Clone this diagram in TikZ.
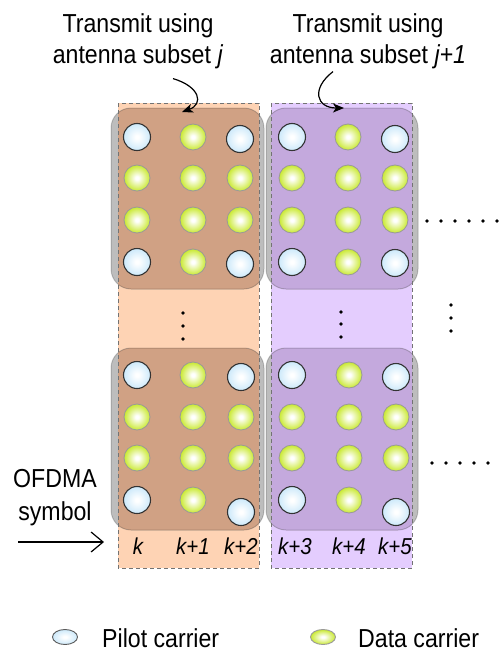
\documentclass[tikz,border=0pt]{standalone}
\usepackage{fontspec}
\setmainfont[FakeStretch=0.89]{Liberation Sans}
\usetikzlibrary{arrows.meta,shapes.geometric}

\definecolor{pilotblue}{HTML}{B8E0F8}
\definecolor{datagreen}{HTML}{C2E614}
\definecolor{orangebg}{HTML}{FED3B4}
\definecolor{purplebg}{HTML}{E4CDFE}
\definecolor{orangebox}{HTML}{D0A184}
\definecolor{purplebox}{HTML}{C4A9DD}
\definecolor{boxgray}{HTML}{BDBDBD}

\pgfdeclareradialshading{pilotball}{\pgfpointorigin}{color(0bp)=(white); color(3bp)=(white); color(34bp)=(pilotblue); color(50bp)=(pilotblue)}
\pgfdeclareradialshading{databall}{\pgfpointorigin}{color(0bp)=(white); color(3bp)=(white); color(28bp)=(datagreen); color(50bp)=(datagreen)}

\tikzset{
  pilotdot/.style={circle, draw=black!80, line width=1.1pt, shade, shading=pilotball,
    minimum size=27pt, inner sep=0pt},
  datadot/.style={circle, draw=black!40, line width=0.8pt, shade, shading=databall,
    minimum size=26pt, inner sep=0pt},
  colframe/.style={draw=black!55, line width=0.8pt, dash pattern=on 4pt off 3pt},
  rbox/.style={rounded corners=20pt},
  txt/.style={font=\fontsize{26}{31}\selectfont, align=center, inner sep=0pt},
  idx/.style={font=\fontsize{23}{26}\selectfont\itshape, inner sep=0pt, anchor=base},
  curl/.style={line width=1.2pt, -{Stealth[length=11pt,width=9pt,inset=3pt]}},
  dotmark/.style={fill=black},
}

\begin{document}
\begin{tikzpicture}[x=1pt,y=-1pt]
\useasboundingbox (0,0) rectangle (499,653);
\fill[white] (0,0) rectangle (499,653);

% subcarrier columns
\fill[orangebg] (118,103) rectangle (259,568);
\fill[purplebg] (271,103) rectangle (412,568);

% tiles (gray where outside a column, tinted inside it)
\foreach \xa/\ya/\xb/\yb/\col/\cx/\cxx in {
    111/108/264/289/orangebox/118/259, 266/108/418/289/purplebox/271/412,
    111/348/264/530/orangebox/118/259, 266/348/418/530/purplebox/271/412}{
  \fill[boxgray, rbox] (\xa,\ya) rectangle (\xb,\yb);
  \begin{scope}
    \clip (\cx,\ya-1) rectangle (\cxx,\yb+1);
    \fill[\col, rbox] (\xa,\ya) rectangle (\xb,\yb);
  \end{scope}
  \draw[black, opacity=0.18, line width=1pt, rbox] (\xa,\ya) rectangle (\xb,\yb);
}

\draw[colframe] (118,103) rectangle (259,568);
\draw[colframe] (271,103) rectangle (412,568);

% pilot and data carriers in each tile
\foreach \b/\xa/\xb/\xc/\ya/\yb/\yc/\yd/\low in {
    TL/137/193/240/137/178/220/262/2, TR/292/348/395/137/178/220/262/1,
    BL/137/193/241/375/417/458/500/12, BR/292/349/396/375/417/458/500/12}{
  \node[pilotdot] (\b-11) at (\xa,\ya) {};
  \node[datadot]  (\b-21) at (\xa,\yb) {};
  \node[datadot]  (\b-31) at (\xa,\yc) {};
  \node[pilotdot] (\b-41) at (\xa,\yd) {};
  \node[datadot]  (\b-12) at (\xb,\ya) {};
  \node[datadot]  (\b-22) at (\xb,\yb) {};
  \node[datadot]  (\b-32) at (\xb,\yc) {};
  \node[datadot]  (\b-42) at (\xb,\yd) {};
  \node[pilotdot] (\b-13) at (\xc,{\ya+2}) {};
  \node[datadot]  (\b-23) at (\xc,\yb) {};
  \node[datadot]  (\b-33) at (\xc,\yc) {};
  \node[pilotdot] (\b-43) at (\xc,{\yd+\low}) {};
}

% continuation dots
\foreach \x in {427,441,...,497} \fill[dotmark] (\x,221) circle (1.9);
\foreach \x in {432,446,...,488} \fill[dotmark] (\x,463) circle (1.9);
\foreach \y in {313,326,339} \fill[dotmark] (183,\y) circle (1.9);
\foreach \y in {312,324,337} \fill[dotmark] (341,\y) circle (1.9);
\foreach \y in {305,318,331} \fill[dotmark] (451,\y) circle (1.9);

% subcarrier indices
\node[idx] (k0) at (138,554) {k};
\node[idx] (k1) at (193,554) {k+1};
\node[idx] (k2) at (241,554) {k+2};
\node[idx] (k3) at (295,554) {k+3};
\node[idx] (k4) at (349,554) {k+4};
\node[idx] (k5) at (395,554) {k+5};

% antenna subset captions (base anchor = baseline of the last line)
\node[txt, anchor=base] (capj) at (138,63) {Transmit using\\antenna subset \textit{j}};
\node[txt, anchor=base] (capjj) at (368,63) {Transmit using\\antenna subset \textit{j+1}};
\coordinate (tipj) at (182,112);
\coordinate (tipjj) at (344,108);
\draw[curl] ([xshift=35pt,yshift=-10pt]capj.south) .. controls +(27,8) and +(22,-8) .. (tipj);
\draw[curl] ([xshift=-35pt,yshift=-3pt]capjj.south) .. controls +(-22,17) and +(-28,0) .. (tipjj);

% time axis
\node[txt, font=\fontsize{26}{33}\selectfont, anchor=base] (ofdma) at (55,520) {OFDMA\\symbol};
\coordinate (ta) at (18,542);
\coordinate (tb) at (104,542);
\draw[line width=1.2pt, -{Straight Barb[length=12pt,width=20pt,line width=1.2pt]}] (ta) -- (tb);

% legend
\node[ellipse, draw=black!65, line width=0.9pt, shade, shading=pilotball,
      minimum width=25pt, minimum height=15pt, inner sep=0pt] (legp) at (65,637) {};
\node[ellipse, draw=black!40, line width=0.9pt, shade, shading=databall,
      minimum width=25pt, minimum height=15pt, inner sep=0pt] (legd) at (323,637) {};
\node[txt, anchor=base west] (legptxt) at (102,647) {Pilot carrier};
\node[txt, anchor=base west] (legdtxt) at (358,647) {Data carrier};
\end{tikzpicture}
\end{document}
